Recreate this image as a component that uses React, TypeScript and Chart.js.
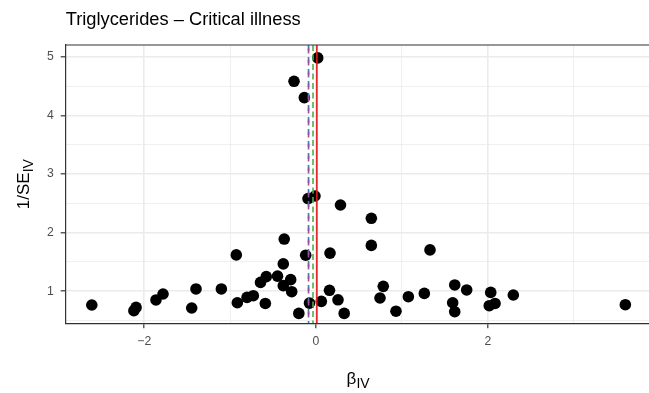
import React, { useEffect, useRef } from 'react';
import { Chart, registerables } from 'chart.js';

Chart.register(...registerables);

// ---- Data ----
const betaIV = [
  -2.61, -2.12, -2.095, -1.863, -1.781, -1.447, -1.397, -1.102, -0.928, -0.916,
  -0.803, -0.73, -0.646, -0.579, -0.59, -0.448, -0.37, -0.381, -0.381, -0.295,
  -0.283, -0.2, -0.12, -0.076, 0.062, 0.163, 0.157, 0.256, 0.285, 0.328,
  0.644, 0.644, 0.745, 0.783, 0.931, 1.075, 1.261, 1.327, 1.591, 1.615,
  1.615, 1.754, 2.034, 2.017, 2.084, 2.297, 3.601, -0.093, -0.012, -0.256,
  -0.136, 0.02,
];
const invSE = [
  0.764, 0.667, 0.723, 0.85, 0.952, 0.713, 1.038, 1.038, 1.619, 0.803,
  0.894, 0.923, 1.15, 1.248, 0.791, 1.256, 1.889, 1.465, 1.094, 1.197,
  0.991, 0.621, 1.614, 0.797, 0.826, 1.65, 1.015, 0.853, 2.47, 0.621,
  2.243, 1.781, 0.884, 1.082, 0.658, 0.906, 0.962, 1.704, 0.803, 1.106,
  0.65, 1.021, 0.979, 0.752, 0.791, 0.935, 0.769, 2.58, 2.624, 4.581,
  4.303, 4.98,
];

const methodNames = ['MR-Egger', 'Weighted mode', 'Weighted median', 'IVW'];
const methodEstimates = [-0.087, -0.087, -0.035, 0.01];
const methodColors = ['#377EB8', '#984EA3', '#4DAF4A', '#E41A1C'];

const xTicks = [-2, -1, 0, 1, 2, 3];
const xTickLabels = ['\u22122', '', '0', '', '2', ''];
const yTicks = [0.5, 1, 1.5, 2, 2.5, 3, 3.5, 4, 4.5, 5];
const yTickLabels = ['', '1', '', '2', '', '3', '', '4', '', '5'];

const titleText = 'Triglycerides \u2013 Critical illness';
const xTitleMain = '\u03B2';
const xTitleSub = 'IV';
const yTitleMain = '1/SE';
const yTitleSub = 'IV';

const X_MIN = -2.914;
const X_MAX = 3.894;
const Y_MIN = 0.452;
const Y_MAX = 5.2;

// ---- Layout ----
const W = 680;
const H = 393;
const AREA = { left: 65.7, right: 650.5, top: 45, bottom: 323.3 };
const FONT = '"Liberation Sans", Arial, Helvetica, sans-serif';

const isMajorX = (v: number) => Math.abs(v % 2) < 1e-9;
const isMajorY = (v: number) => Math.abs(v - Math.round(v)) < 1e-9;

const overlayPlugin = {
  id: 'overlay',
  afterDatasetsDraw(chart: any) {
    const { ctx, chartArea, scales } = chart;
    ctx.save();
    ctx.beginPath();
    ctx.rect(chartArea.left, chartArea.top, chartArea.right - chartArea.left, chartArea.bottom - chartArea.top);
    ctx.clip();
    const dashes: number[][] = [[6, 6], [6, 6], [6, 3.5], []];
    const offsets = [0, -2.5, 0, 0];
    methodEstimates.forEach((est, i) => {
      const px = scales.x.getPixelForValue(est);
      ctx.beginPath();
      ctx.strokeStyle = methodColors[i];
      ctx.lineWidth = 1.6;
      ctx.setLineDash(dashes[i]);
      ctx.lineDashOffset = offsets[i];
      ctx.moveTo(px, chartArea.top);
      ctx.lineTo(px, chartArea.bottom);
      ctx.stroke();
    });
    ctx.restore();
    // top border of panel
    ctx.save();
    ctx.strokeStyle = '#333333';
    ctx.lineWidth = 1.2;
    ctx.beginPath();
    ctx.moveTo(chartArea.left, chartArea.top);
    ctx.lineTo(chartArea.right, chartArea.top);
    ctx.stroke();
    ctx.restore();
  },
  afterDraw(chart: any) {
    const { ctx, chartArea } = chart;
    ctx.save();
    ctx.fillStyle = '#000000';
    ctx.textBaseline = 'alphabetic';
    // Title
    ctx.font = `18.3px ${FONT}`;
    ctx.textAlign = 'left';
    ctx.fillText(titleText, chartArea.left, 25);

    // X title
    const mainF = 17;
    const subF = 14;
    ctx.font = `${mainF}px ${FONT}`;
    const wb = ctx.measureText(xTitleMain).width;
    ctx.font = `${subF}px ${FONT}`;
    const wi = ctx.measureText(xTitleSub).width;
    const cx = (chartArea.left + chartArea.right) / 2;
    const startX = cx - (wb + wi) / 2;
    ctx.font = `${mainF}px ${FONT}`;
    ctx.fillText(xTitleMain, startX, 384);
    ctx.font = `${subF}px ${FONT}`;
    ctx.fillText(xTitleSub, startX + wb, 388);

    // Y title (rotated)
    ctx.save();
    const cy = (chartArea.top + chartArea.bottom) / 2;
    ctx.translate(29, cy);
    ctx.rotate(-Math.PI / 2);
    ctx.font = `${mainF}px ${FONT}`;
    const wm = ctx.measureText(yTitleMain).width;
    ctx.font = `${subF}px ${FONT}`;
    const ws = ctx.measureText(yTitleSub).width;
    const sx = -(wm + ws) / 2;
    ctx.font = `${mainF}px ${FONT}`;
    ctx.fillText(yTitleMain, sx, 0);
    ctx.font = `${subF}px ${FONT}`;
    ctx.fillText(yTitleSub, sx + wm, 4);
    ctx.restore();
    ctx.restore();
  },
};

export default function App() {
  const ref = useRef<HTMLCanvasElement | null>(null);

  useEffect(() => {
    if (!ref.current) return;
    const points = betaIV.map((b, i) => ({ x: b, y: invSE[i] }));
    const chart = new Chart(ref.current, {
      type: 'scatter',
      data: {
        datasets: [
          {
            label: 'SNPs',
            data: points,
            backgroundColor: '#000000',
            borderWidth: 0,
            pointRadius: 5.8,
            pointHoverRadius: 5.8,
          },
        ],
      },
      options: {
        animation: false,
        responsive: false,
        maintainAspectRatio: false,
        devicePixelRatio: 1,
        layout: { padding: { left: 0, top: AREA.top, right: W - AREA.right, bottom: 0 } },
        plugins: {
          legend: { display: false },
          tooltip: { enabled: false },
          title: { display: false },
        },
        scales: {
          x: {
            type: 'linear',
            min: X_MIN,
            max: X_MAX,
            afterBuildTicks: (s: any) => {
              s.ticks = xTicks.map((v) => ({ value: v }));
            },
            afterFit: (s: any) => {
              s.height = H - AREA.bottom;
            },
            ticks: {
              autoSkip: false,
              maxRotation: 0,
              minRotation: 0,
              padding: 6,
              color: '#4D4D4D',
              font: { size: 12.2, family: FONT },
              callback: (v: any) => {
                const i = xTicks.indexOf(Number(v));
                return i >= 0 ? xTickLabels[i] : '';
              },
            },
            grid: {
              color: '#EBEBEB',
              lineWidth: (c: any) => (c.tick && isMajorX(c.tick.value) ? 1.6 : 0.8),
              tickColor: (c: any) => (c.tick && isMajorX(c.tick.value) ? '#333333' : 'rgba(0,0,0,0)'),
              tickWidth: 1.2,
              tickLength: 5,
              drawTicks: true,
            },
            border: { color: '#333333', width: 1.2 },
          },
          y: {
            type: 'linear',
            min: Y_MIN,
            max: Y_MAX,
            afterBuildTicks: (s: any) => {
              s.ticks = yTicks.map((v) => ({ value: v }));
            },
            afterFit: (s: any) => {
              s.width = AREA.left;
            },
            ticks: {
              autoSkip: false,
              padding: 7,
              color: '#4D4D4D',
              font: { size: 12.2, family: FONT },
              callback: (v: any) => {
                const i = yTicks.indexOf(Number(v));
                return i >= 0 ? yTickLabels[i] : '';
              },
            },
            grid: {
              color: '#EBEBEB',
              lineWidth: (c: any) => (c.tick && isMajorY(c.tick.value) ? 1.6 : 0.8),
              tickColor: (c: any) => (c.tick && isMajorY(c.tick.value) ? '#333333' : 'rgba(0,0,0,0)'),
              tickWidth: 1.2,
              tickLength: 5,
              drawTicks: true,
            },
            border: { color: '#333333', width: 1.2 },
          },
        },
      },
      plugins: [overlayPlugin],
    });
    return () => chart.destroy();
  }, []);

  return (
    <div
      style={{
        position: 'fixed',
        left: 0,
        top: 0,
        width: 649,
        height: 393,
        overflow: 'hidden',
        background: '#ffffff',
      }}
    >
      <canvas ref={ref} width={W} height={H} style={{ display: 'block', width: W, height: H }} />
    </div>
  );
}
